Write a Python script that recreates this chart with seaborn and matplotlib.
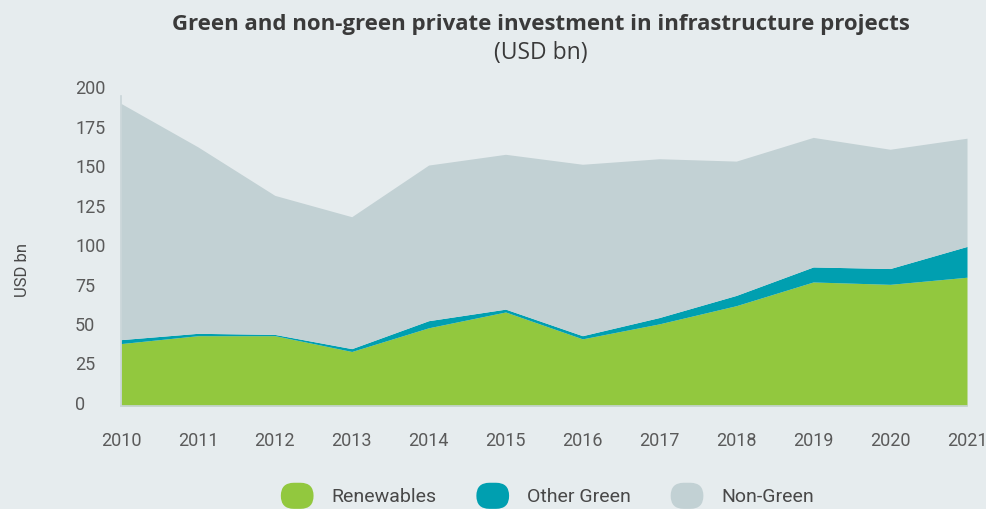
import numpy as np
import seaborn as sns
import matplotlib.pyplot as plt
import matplotlib.transforms as mtransforms
from matplotlib.patches import Patch, FancyBboxPatch
from matplotlib.legend_handler import HandlerPatch

years = [2010, 2011, 2012, 2013, 2014, 2015, 2016, 2017, 2018, 2019, 2020, 2021]
renewables = [39.5, 44.5, 44.5, 34.5, 49.5, 59.5, 42.5, 52, 63.5, 78.5, 77, 81.5]
other_green = [2.5, 1.5, 0.8, 1.8, 4.5, 1.8, 2, 4, 6.5, 9.5, 10, 19.5]
non_green = [149.5, 118, 88, 83.5, 98.5, 98, 108.5, 100.5, 85, 82, 75.5, 68.5]
series_names = ["Renewables", "Other Green", "Non-Green"]
y_ticks = [0, 25, 50, 75, 100, 125, 150, 175, 200]

bg = "#e6ecee"
colors = ["#92c83e", "#009fb0", "#c2d1d4"]
text_col = "#5a5a5a"

sns.set_theme(style="white", rc={"axes.facecolor": bg, "figure.facecolor": bg})
plt.rcParams["font.family"] = ["Roboto", "DejaVu Sans"]

fig = plt.figure(figsize=(9.87, 5.09), dpi=100)
ax = fig.add_axes([121 / 987, 1 - 406 / 509, 846 / 987, 316 / 509])

ax.stackplot(years, renewables, other_green, non_green, colors=colors,
             labels=series_names, linewidth=0)

ax.set_xlim(2010, 2021)
ax.set_ylim(0, 200)
ax.set_xticks(years)
ax.set_yticks(y_ticks)
ax.tick_params(axis="both", length=0, labelsize=13, labelcolor=text_col)
ax.tick_params(axis="x", pad=19)
ax.tick_params(axis="y", pad=33)
shift = mtransforms.ScaledTranslation(0, 3 / 100, fig.dpi_scale_trans)
for lab in ax.get_yticklabels():
    lab.set_horizontalalignment("left")
    lab.set_transform(lab.get_transform() + shift)

sns.despine(ax=ax, top=True, right=True)
ax.spines["left"].set_color("#c9d5d8")
ax.spines["bottom"].set_color("#c9d5d8")
ax.spines["left"].set_linewidth(1.2)
ax.spines["bottom"].set_linewidth(1.2)
ax.spines["left"].set_bounds(0, 196)
ax.grid(False)

ax.set_ylabel("USD bn", fontsize=12, color="#484848")
ax.yaxis.set_label_coords(-0.107, 0.43)

fig.text(0.548, 0.951, "Green and non-green private investment in infrastructure projects",
         ha="center", va="center", fontsize=16, fontweight="bold", color="#3a3a3a",
         family=["Open Sans", "DejaVu Sans"])
fig.text(0.548, 0.896, "(USD bn)", ha="center", va="center", fontsize=16.5,
         color="#3a3a3a", family=["Open Sans", "DejaVu Sans"])


class PillHandler(HandlerPatch):
    def create_artists(self, legend, orig_handle, xdescent, ydescent, width, height, fontsize, trans):
        p = FancyBboxPatch((-xdescent + height * 0.4, -ydescent - height * 0.25),
                           width - height * 0.8, height * 1.5,
                           boxstyle="round,pad=0,rounding_size=%f" % (height * 0.75),
                           facecolor=orig_handle.get_facecolor(), edgecolor="none",
                           transform=trans)
        return [p]


handles = [Patch(facecolor=c, label=n) for c, n in zip(colors, series_names)]
fig.legend(handles=handles, loc="center", bbox_to_anchor=(0.551, 0.024), ncol=3,
           frameon=False, fontsize=14, handlelength=2.4, handleheight=1.0,
           handletextpad=0.55, columnspacing=1.7, labelcolor="#484848",
           handler_map={Patch: PillHandler()})

fig.savefig("out.png", dpi=100, facecolor=bg)
